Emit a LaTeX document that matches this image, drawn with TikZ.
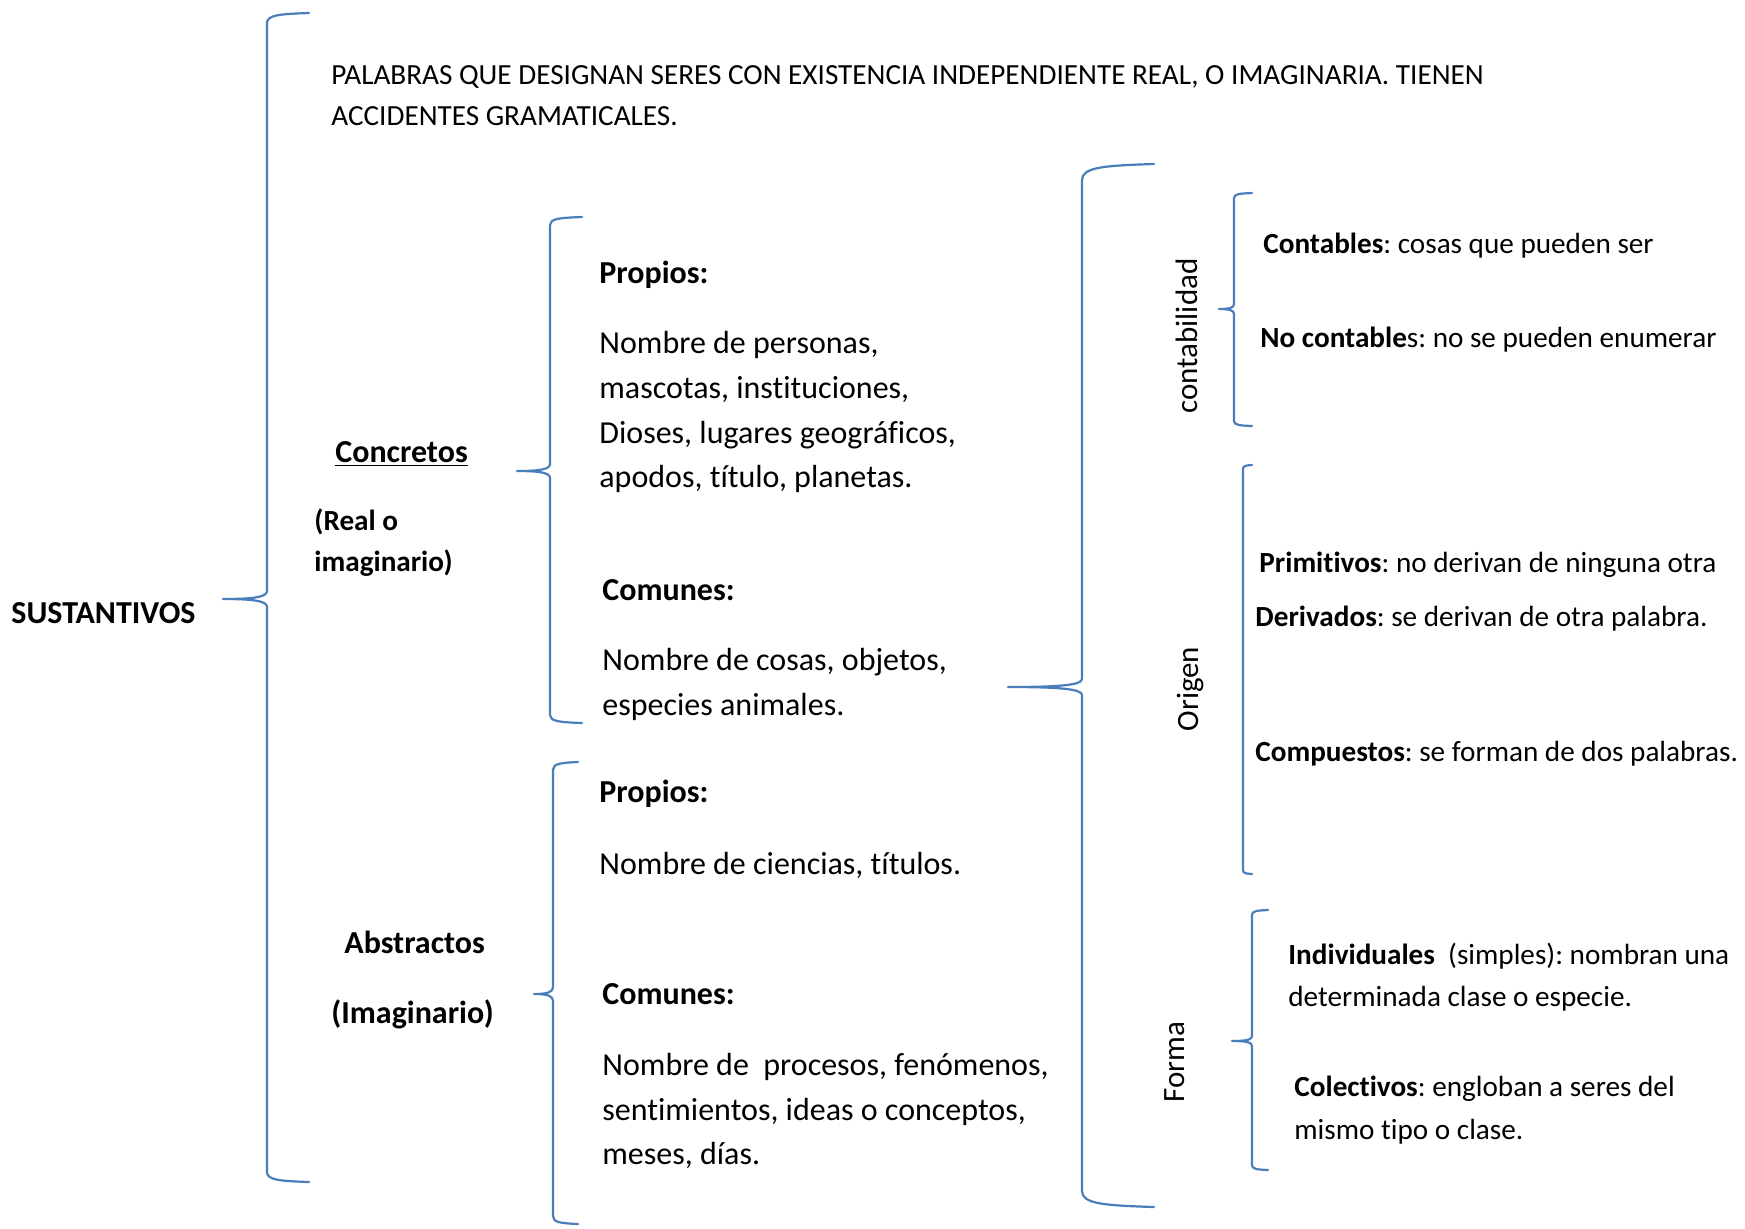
\documentclass[tikz,border=0pt]{standalone}
\usepackage{fontspec}
\setmainfont{Carlito}[Ligatures={NoCommon}]
\frenchspacing
\definecolor{bracecol}{HTML}{4A7EBB}
\tikzset{
  txt/.style={anchor=base west, inner sep=0pt, font=\fontsize{16}{19}\selectfont},
  rtxt/.style={anchor=base west, inner sep=0pt, font=\fontsize{14.6}{17}\selectfont},
  vtxt/.style={anchor=center, inner sep=0pt, rotate=90, font=\fontsize{15.5}{18}\selectfont},
  brace/.style={draw=bracecol, line width=1.1pt, line cap=round, line join=round}
}
% #1 line x, #2 tip x, #3 end x, #4 top y, #5 mid y, #6 bottom y, #7 corner, #8 tip half height
\newcommand\wbrace[8]{%
  \draw[brace] (#3,#4) .. controls ({#1+0.3*(#3-#1)},{#4+0.1*#7}) and (#1,{#4+0.2*#7}) .. (#1,{#4+#7})
    -- (#1,{#5-#8}) .. controls (#1,{#5-0.25*#8}) and ({#1-0.3*(#1-#2)},#5) .. (#2,#5)
    .. controls ({#1-0.3*(#1-#2)},#5) and (#1,{#5+0.25*#8}) .. (#1,{#5+#8})
    -- (#1,{#6-#7}) .. controls (#1,{#6-0.2*#7}) and ({#1+0.3*(#3-#1)},{#6-0.1*#7}) .. (#3,#6);
}
\begin{document}
\begin{tikzpicture}[x=0.5pt,y=-0.5pt]
\path[use as bounding box, fill=white] (0,0) rectangle (1745,1228);

% braces
\wbrace{267}{223}{309}{13}{599}{1182}{10}{8}
\wbrace{550}{517}{582}{217}{471}{723}{8}{7}
\wbrace{553}{534}{578}{762}{994}{1224}{8}{7}
\wbrace{1082}{1008}{1154}{164}{687}{1207}{16}{8}
\wbrace{1234}{1219}{1252}{193}{309}{426}{5}{5}
\wbrace{1243}{1243}{1252}{465}{670}{874}{4}{4}
\wbrace{1252}{1232}{1268}{910}{1041}{1170}{5}{5}

% top description
\node[rtxt] (d1) at (331,84) {PALABRAS QUE DESIGNAN SERES CON EXISTENCIA INDEPENDIENTE REAL, O IMAGINARIA. TIENEN};
\node[rtxt] (d2) at (331,125) {ACCIDENTES GRAMATICALES.};

% root
\node[txt] (sust) at (11,623) {\textbf{SUSTANTIVOS}};

% concretos
\node[txt] (conc) at (335,462) {\textbf{\underline{Concretos}}};
\node[rtxt] (conc2) at (314,530) {\textbf{(Real o}};
\node[rtxt] (conc3) at (314,571) {\textbf{imaginario)}};

\node[txt] (p1) at (599,283) {\textbf{Propios:}};
\node[txt] (p1a) at (599,353) {Nombre de personas,};
\node[txt] (p1b) at (599,398) {mascotas, instituciones,};
\node[txt] (p1c) at (599,443) {Dioses, lugares geográficos,};
\node[txt] (p1d) at (599,487) {apodos, título, planetas.};

\node[txt] (c1) at (602,600) {\textbf{Comunes:}};
\node[txt] (c1a) at (602,670) {Nombre de cosas, objetos,};
\node[txt] (c1b) at (602,715) {especies animales.};

% abstractos
\node[txt] (abst) at (344,953) {\textbf{Abstractos}};
\node[txt] (abst2) at (331,1023) {\textbf{(Imaginario)}};

\node[txt] (p2) at (599,802) {\textbf{Propios:}};
\node[txt] (p2a) at (599,874) {Nombre de ciencias, títulos.};

\node[txt] (c2) at (602,1004) {\textbf{Comunes:}};
\node[txt] (c2a) at (602,1075) {Nombre de\ \ procesos, fenómenos,};
\node[txt] (c2b) at (602,1120) {sentimientos, ideas o conceptos,};
\node[txt] (c2c) at (602,1164) {meses, días.};

% right side
\node[vtxt] (cont) at (1187,336) {contabilidad};
\node[rtxt] (r1) at (1263,253) {\textbf{Contables}: cosas que pueden ser};
\node[rtxt] (r2) at (1260,347) {\textbf{No contable}s: no se pueden enumerar};

\node[vtxt] (orig) at (1190,689) {Origen};
\node[rtxt] (r3) at (1259,572) {\textbf{Primitivos}: no derivan de ninguna otra};
\node[rtxt] (r4) at (1255,626) {\textbf{Derivados}: se derivan de otra palabra.};
\node[rtxt] (r5) at (1255,761) {\textbf{Compuestos}: se forman de dos palabras.};

\node[vtxt] (forma) at (1175,1062) {Forma};
\node[rtxt] (r6) at (1288,964) {\textbf{Individuales}\ \ (simples): nombran una};
\node[rtxt] (r7) at (1288,1006) {determinada clase o especie.};
\node[rtxt] (r8) at (1294,1096) {\textbf{Colectivos}: engloban a seres del};
\node[rtxt] (r9) at (1294,1139) {mismo tipo o clase.};
\end{tikzpicture}
\end{document}
